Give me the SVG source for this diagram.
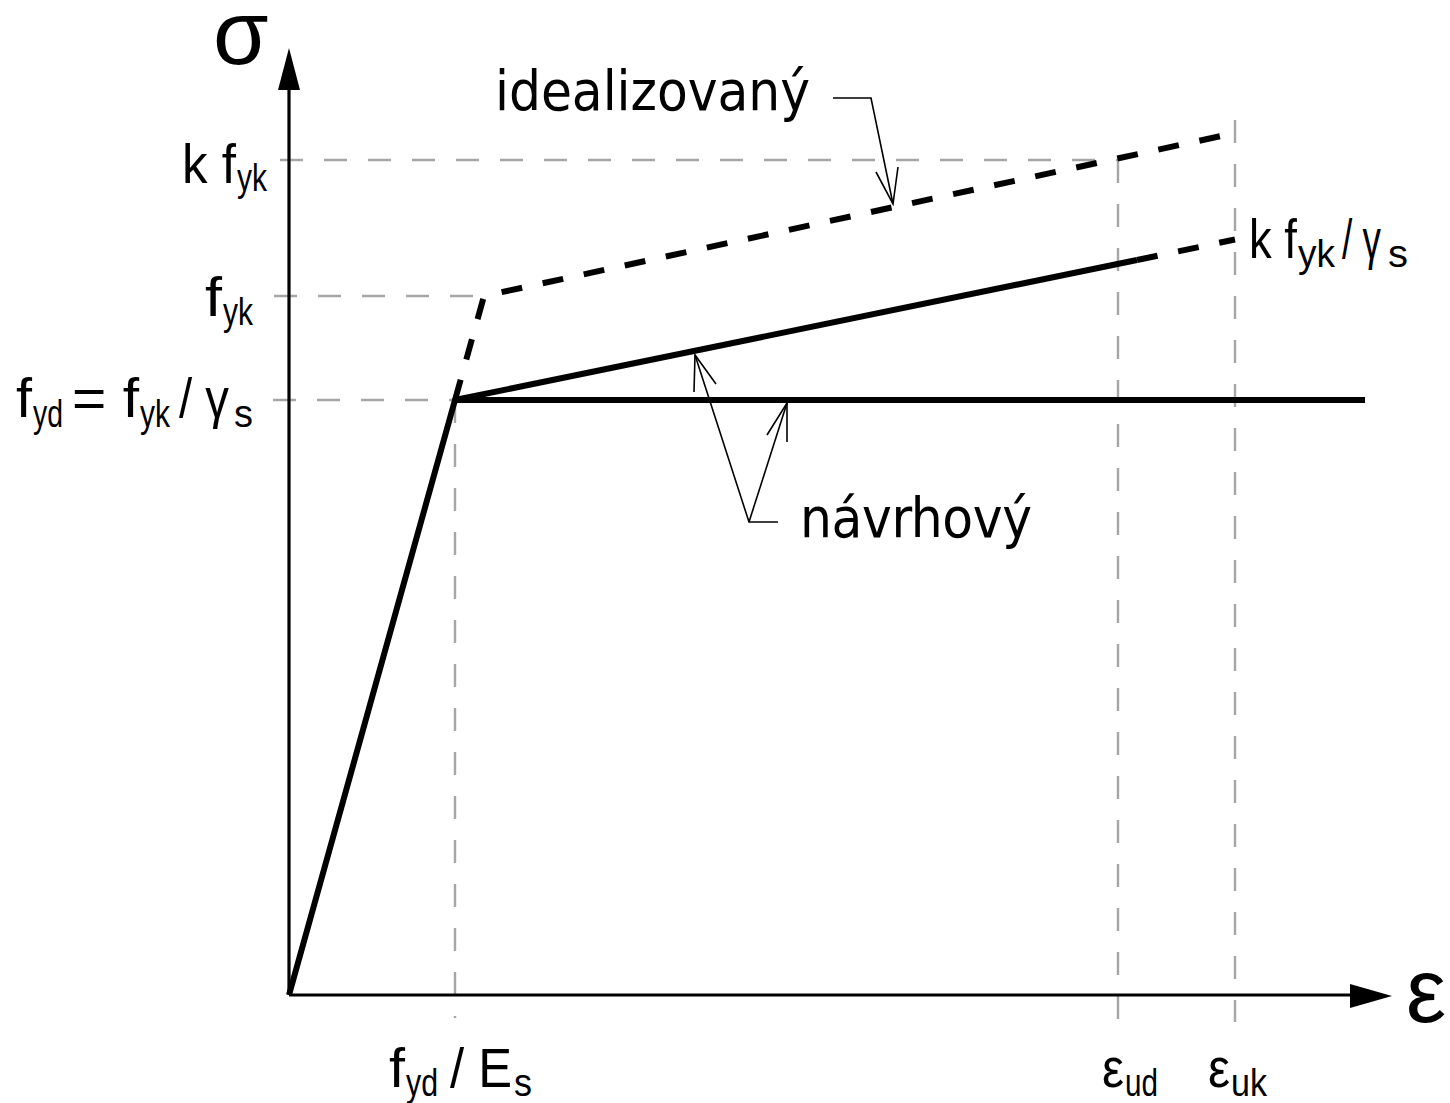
<svg xmlns="http://www.w3.org/2000/svg" width="1450" height="1103" viewBox="0 0 1450 1103">
<defs>
<style>
.grid{stroke:#a6a6a6;stroke-width:2.4;fill:none;stroke-dasharray:23 21}
.axis{stroke:#000;stroke-width:3.2;fill:none}
.curve{stroke:#000;stroke-width:6;fill:none;stroke-linejoin:round;stroke-linecap:butt}
.dash{stroke:#000;stroke-width:6;fill:none;stroke-dasharray:21 21;stroke-linejoin:round}
.lead{stroke:#000;stroke-width:1.6;fill:none}
.lbl{font-family:"Liberation Sans Narrow","Liberation Sans",Arial,sans-serif;fill:#000;font-size:56px}
.sub{font-size:38px}
.huge{font-size:90px}
.iso{font-family:"DejaVu Sans Condensed","DejaVu Sans",sans-serif;font-size:56px;fill:#000}
</style>
</defs>
<rect width="1450" height="1103" fill="#fff"/>
<g id="gridlines">
<path class="grid" d="M280,160 H1118"/>
<path class="grid" d="M1118,160 V1020"/>
<path class="grid" d="M1235,120 V1022"/>
<path class="grid" d="M274,296 H485"/>
<path class="grid" d="M273,400 H455"/>
<path class="grid" d="M455,400 V1018"/>
</g>
<g id="axes">
<path class="axis" d="M289,995 V88"/>
<polygon points="289,48 278,90 300,90" fill="#000"/>
<path class="axis" d="M289,995 H1352"/>
<polygon points="1392,996 1350,984 1350,1008" fill="#000"/>
</g>
<g id="connectors">
<path class="curve" d="M289,995 L455,400 L1365,400"/>
<path class="curve" d="M455,400 L1137,260"/>
<path class="dash" d="M1137,260 L1235,239.5"/>
<path class="dash" d="M455,400 L484,296 L1235,133"/>
<path class="lead" d="M833,98 H871 L893,204"/>
<path class="lead" d="M876,172 L893,204 L898,167"/>
<path class="lead" d="M778,522 H749 L695,355"/>
<path class="lead" d="M694,392 L695,355 L716,384"/>
<path class="lead" d="M749,522 L787,403"/>
<path class="lead" d="M767,435 L787,403 L787,442"/>
</g>
<g id="labels">
<text id="label-sigma" class="lbl huge" x="213" y="64">σ</text>
<text id="label-eps" class="lbl huge" x="1406" y="1022">ε</text>
<text id="label-kfyk" class="lbl"><tspan x="182" y="183" textLength="54" lengthAdjust="spacingAndGlyphs">k f</tspan><tspan class="sub" x="237" y="191" textLength="30" lengthAdjust="spacingAndGlyphs">yk</tspan></text>
<text id="label-fyk" class="lbl"><tspan x="205" y="316" textLength="17" lengthAdjust="spacingAndGlyphs">f</tspan><tspan class="sub" x="223" y="325" textLength="30" lengthAdjust="spacingAndGlyphs">yk</tspan></text>
<text id="label-fyd" class="lbl"><tspan x="16" y="417" textLength="16" lengthAdjust="spacingAndGlyphs">f</tspan><tspan class="sub" x="33" y="427" textLength="30" lengthAdjust="spacingAndGlyphs">yd</tspan><tspan x="72" y="417" textLength="67" lengthAdjust="spacingAndGlyphs">= f</tspan><tspan class="sub" x="140" y="427" textLength="30" lengthAdjust="spacingAndGlyphs">yk</tspan><tspan x="179" y="417" textLength="50" lengthAdjust="spacingAndGlyphs">/ γ</tspan><tspan class="sub" x="234" y="427" textLength="19" lengthAdjust="spacingAndGlyphs">s</tspan></text>
<text id="label-kfyk-gs" class="lbl"><tspan x="1249" y="258" textLength="48" lengthAdjust="spacingAndGlyphs">k f</tspan><tspan class="sub" x="1298" y="267" textLength="37" lengthAdjust="spacingAndGlyphs">yk</tspan><tspan x="1342" y="258" textLength="39" lengthAdjust="spacingAndGlyphs">/ γ</tspan><tspan class="sub" x="1388" y="267" textLength="20" lengthAdjust="spacingAndGlyphs">s</tspan></text>
<text id="label-fydEs" class="lbl"><tspan x="389" y="1087" textLength="16" lengthAdjust="spacingAndGlyphs">f</tspan><tspan class="sub" x="406" y="1096" textLength="32" lengthAdjust="spacingAndGlyphs">yd</tspan><tspan x="450" y="1087" textLength="62" lengthAdjust="spacingAndGlyphs">/ E</tspan><tspan class="sub" x="514" y="1096" textLength="18" lengthAdjust="spacingAndGlyphs">s</tspan></text>
<text id="label-eud" class="lbl"><tspan x="1102" y="1087" textLength="22" lengthAdjust="spacingAndGlyphs">ε</tspan><tspan class="sub" x="1125" y="1096" textLength="33" lengthAdjust="spacingAndGlyphs">ud</tspan></text>
<text id="label-euk" class="lbl"><tspan x="1208" y="1087" textLength="22" lengthAdjust="spacingAndGlyphs">ε</tspan><tspan class="sub" x="1231" y="1096" textLength="36" lengthAdjust="spacingAndGlyphs">uk</tspan></text>
<text id="label-idealizovany" class="iso" x="495" y="110" textLength="315" lengthAdjust="spacing">idealizovaný</text>
<text id="label-navrhovy" class="iso" x="800" y="537" textLength="232" lengthAdjust="spacing">návrhový</text>
</g>
</svg>
